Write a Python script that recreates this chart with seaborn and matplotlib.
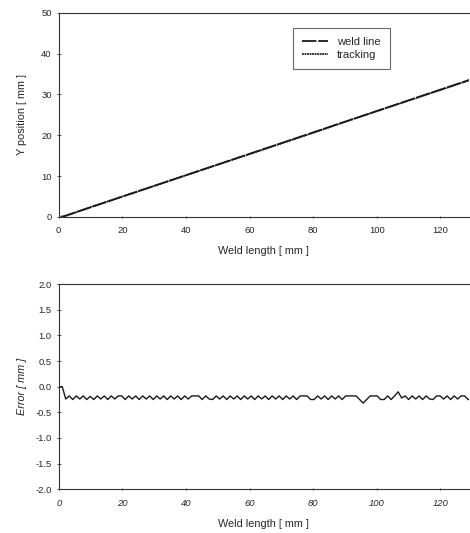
import numpy as np
import pandas as pd
import seaborn as sns
import matplotlib.pyplot as plt

sns.set_style('ticks')
plt.rcParams['font.family'] = ['Liberation Sans', 'DejaVu Sans']

#%% data
# weld line and measured tracking positions [mm]
weld_x = [1, 130]
weld_y = [0.0, 33.8]
track_x = [0, 2, 10, 20, 30, 40, 50, 60, 70, 80, 90, 100, 110, 120, 130]
track_y = [0.0, 0.2, 2.4, 5.0, 7.6, 10.2, 12.8, 15.4, 18.0, 20.6, 23.3, 25.9, 28.5, 31.1, 33.7]

# tracking error, sampled every 1.1 mm
err_step = 1.1
err_y = [0.0, 0.0, -0.24, -0.18, -0.25, -0.18, -0.24, -0.18, -0.25, -0.19,
         -0.25, -0.18, -0.24, -0.18, -0.25, -0.18, -0.24, -0.18, -0.18, -0.25,
         -0.18, -0.24, -0.18, -0.25, -0.18, -0.24, -0.18, -0.25, -0.18, -0.24,
         -0.18, -0.25, -0.18, -0.24, -0.18, -0.25, -0.18, -0.24, -0.18, -0.18,
         -0.18, -0.25, -0.18, -0.24, -0.25, -0.18, -0.24, -0.18, -0.25, -0.18,
         -0.24, -0.18, -0.25, -0.18, -0.24, -0.18, -0.25, -0.18, -0.24, -0.18,
         -0.25, -0.18, -0.24, -0.18, -0.25, -0.18, -0.24, -0.18, -0.25, -0.18,
         -0.18, -0.18, -0.25, -0.25, -0.18, -0.24, -0.18, -0.25, -0.18, -0.24,
         -0.18, -0.25, -0.18, -0.18, -0.18, -0.18, -0.25, -0.32, -0.25, -0.18,
         -0.18, -0.18, -0.25, -0.25, -0.18, -0.25, -0.18, -0.10, -0.22, -0.18,
         -0.25, -0.18, -0.24, -0.18, -0.25, -0.18, -0.24, -0.25, -0.18, -0.18,
         -0.24, -0.18, -0.25, -0.18, -0.24, -0.18, -0.18, -0.25, -0.25]

err = pd.DataFrame({'x': np.arange(len(err_y)) * err_step, 'y': err_y})
weld = pd.DataFrame({'x': weld_x, 'y': weld_y})
track = pd.DataFrame({'x': track_x, 'y': track_y})

#%% figure
fig = plt.figure(figsize=(4.70, 5.33), dpi=100)
ax1 = fig.add_axes([0.125, 0.593, 0.873, 0.383])
ax2 = fig.add_axes([0.125, 0.082, 0.873, 0.385])

lc = '#1a1a1a'
sns.lineplot(data=weld, x='x', y='y', ax=ax1, color=lc, lw=1.3,
             linestyle=(0, (8, 1)), label='weld line')
sns.lineplot(data=track, x='x', y='y', ax=ax1, color=lc, lw=1.3,
             linestyle=(0, (1.0, 0.4)), label='tracking')
ax1.set_xlim(0, 129)
ax1.set_ylim(0, 50)
ax1.set_xticks([0, 20, 40, 60, 80, 100, 120])
ax1.set_yticks([0, 10, 20, 30, 40, 50])
ax1.set_xlabel('Weld length [ mm ]', fontsize=7.8, labelpad=8)
ax1.set_ylabel('Y position [ mm ]', fontsize=7.8, labelpad=10)
leg = ax1.legend(loc='upper left', bbox_to_anchor=(0.57, 0.925), fontsize=8,
                 frameon=True, fancybox=False, handlelength=2.4,
                 borderpad=0.8, labelspacing=0.3, borderaxespad=0)
leg.get_frame().set_edgecolor('#444444')
leg.get_frame().set_linewidth(0.8)

sns.lineplot(data=err, x='x', y='y', ax=ax2, color=lc, lw=1.0)
ax2.set_xlim(0, 129)
ax2.set_ylim(-2.0, 2.0)
ax2.set_xticks([0, 20, 40, 60, 80, 100, 120])
ax2.set_yticks([-2.0, -1.5, -1.0, -0.5, 0.0, 0.5, 1.0, 1.5, 2.0])
ax2.set_yticklabels(['-2.0', '-1.5', '-1.0', '-0.5', '0.0', '0.5', '1.0', '1.5', '2.0'])
ax2.set_xlabel('Weld length [ mm ]', fontsize=7.8, labelpad=8)
ax2.set_ylabel('Error [ mm ]', fontsize=7.8, labelpad=6, style='italic')
for t in ax2.get_xticklabels():
    t.set_style('italic')

for ax in (ax1, ax2):
    ax.tick_params(axis='both', labelsize=6.8, direction='inout', length=3,
                   width=0.6, color='#333333')
    ax.tick_params(axis='x', length=1.5, pad=6)
    for s in ('top', 'bottom', 'left'):
        ax.spines[s].set_linewidth(0.8)
        ax.spines[s].set_color('#333333')
    ax.spines['right'].set_visible(False)

plt.savefig('out.png', dpi=100)
